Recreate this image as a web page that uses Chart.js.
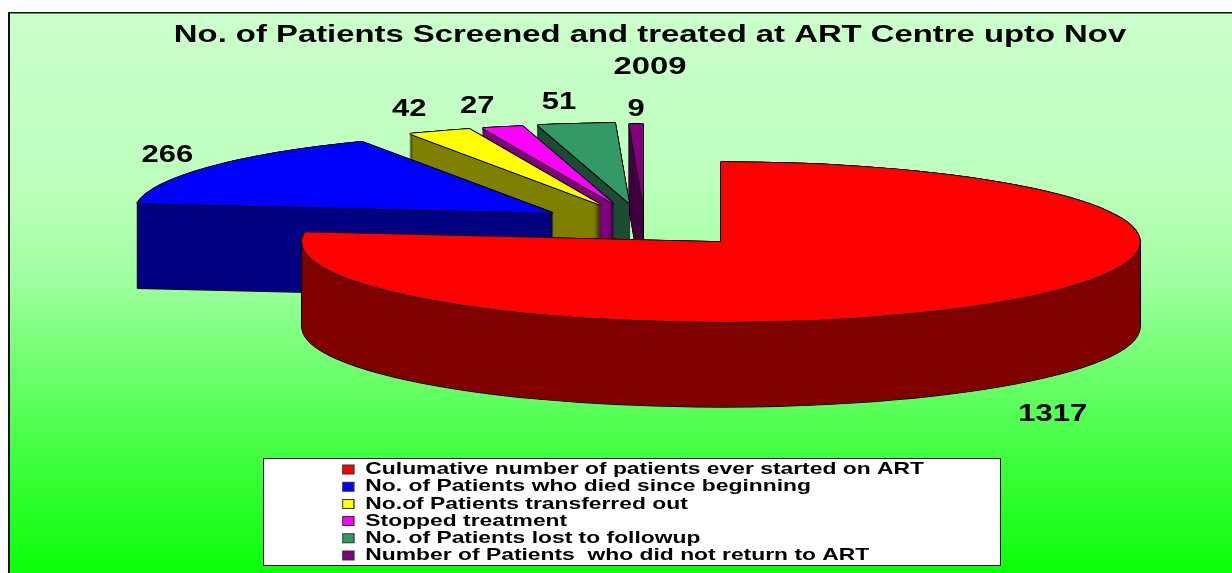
<!DOCTYPE html>
<html>
<head>
<meta charset="utf-8">
<style>html,body{margin:0;padding:0;background:#fff}canvas{display:block}</style>
<script src="https://cdn.jsdelivr.net/npm/chart.js@4/dist/chart.umd.min.js"></script>
</head>
<body>
<canvas id="c" width="1232" height="573"></canvas>
<script>
const categories = [
  "Culumative number of patients ever started on ART",
  "No. of Patients who died since beginning",
  "No.of Patients transferred out",
  "Stopped treatment",
  "No. of Patients lost to followup",
  "Number of Patients  who did not return to ART"
];
const patients = [1317, 266, 42, 27, 51, 9];
const topColors = ["#ff0000", "#0000ff", "#ffff00", "#ff00ff", "#339966", "#800080"];
const sideColors = ["#800000", "#000080", "#808000", "#800080", "#1a4d33", "#400040"];
const titleLines = ["No. of Patients Screened and treated at ART Centre upto Nov", "2009"];

// 3-D projection settings
const PIE = { cx: 721, cy: 242, rx: 419, ry: 80, depth: 85 };
const explode = [[0, 0], [-168, -29], [-120, -37], [-107, -38], [-92, -39], [-78, -38]];
const labelNudge = [[54, 112], [-42, -12], [-30, -22], [-25, -21], [-17, -21], [0, -15]];
const FRAME = { x: 8, y: 12 };
const LEGEND = { x: 263, y: 458, w: 737, h: 107, itemX: 342.5, itemY: 461, stretch: 1.344 };
const TITLE = { cx: 650, top: 19, stretch: 1.368 };
const VALUE_STRETCH = 1.29;
const bgStops = [[0, '#ccffcc'], [0.3, '#bdffbd'], [0.45, '#a6ffa6'], [0.55, '#88ff88'], [0.7, '#5cff5c'], [0.85, '#30ff30'], [1, '#0cff0c']];

function stretchDraw(box, cx, k) {
  const orig = box.draw;
  box.draw = function (a) {
    const ctx = this.ctx;
    ctx.save();
    ctx.translate(cx, 0); ctx.scale(k, 1); ctx.translate(-cx, 0);
    orig.call(this, a);
    ctx.restore();
  };
  box._stretched = true;
}

function drawLayer(chart, el, i, layer, dx, dy, color) {
  const ctx = chart.ctx;
  const R = el.outerRadius;
  const saved = el.options;
  el.options = Object.assign({}, saved, { backgroundColor: color, borderColor: color, borderWidth: 0, offset: 0 });
  ctx.save();
  ctx.translate(PIE.cx + explode[i][0] + dx, PIE.cy + explode[i][1] + layer + dy);
  ctx.scale(PIE.rx / R, PIE.ry / R);
  ctx.translate(-el.x, -el.y);
  el.draw(ctx);
  ctx.restore();
  el.options = saved;
}

const pie3d = {
  id: 'pie3d',
  afterLayout(chart) {
    const t = chart.titleBlock, l = chart.legend;
    const pad = chart.options.plugins.legend.labels.padding;
    t.left = TITLE.cx - 500; t.right = TITLE.cx + 500; t.top = TITLE.top; t.bottom = TITLE.top + 70;
    l.left = LEGEND.itemX - pad;
    l.right = l.left + 700; l.width = 700;
    l.top = LEGEND.itemY - pad;
    l.bottom = LEGEND.y + LEGEND.h + 30; l.height = l.bottom - l.top;
    if (!t._stretched) stretchDraw(t, TITLE.cx, TITLE.stretch);
    if (!l._stretched) stretchDraw(l, LEGEND.itemX, LEGEND.stretch);
  },
  beforeDraw(chart) {
    const ctx = chart.ctx, W = chart.width, H = chart.height;
    ctx.save();
    const g = ctx.createLinearGradient(0, FRAME.y, 0, H);
    bgStops.forEach(([p, c]) => g.addColorStop(p, c));
    ctx.fillStyle = g;
    ctx.fillRect(FRAME.x, FRAME.y, W - FRAME.x, H - FRAME.y);
    ctx.fillStyle = '#111';
    ctx.fillRect(FRAME.x, FRAME.y, W - FRAME.x, 1.5);
    ctx.fillRect(FRAME.x, FRAME.y, 2, H - FRAME.y);
    ctx.fillStyle = '#fff';
    ctx.strokeStyle = '#111';
    ctx.lineWidth = 1;
    ctx.fillRect(LEGEND.x, LEGEND.y, LEGEND.w, LEGEND.h);
    ctx.strokeRect(LEGEND.x + .5, LEGEND.y + .5, LEGEND.w, LEGEND.h);
    ctx.restore();
  },
  beforeDatasetDraw(chart, args) {
    const els = args.meta.data;
    const e = 0.7;
    for (let i = els.length - 1; i >= 0; i--) {
      const el = els[i];
      for (let z = PIE.depth; z >= 0; z -= 1) {
        drawLayer(chart, el, i, z, -e, 0, '#000');
        drawLayer(chart, el, i, z, e, 0, '#000');
      }
      drawLayer(chart, el, i, PIE.depth, 0, e, '#000');
      for (let z = PIE.depth; z >= 1; z -= 1) drawLayer(chart, el, i, z, 0, 0, sideColors[i]);
      for (const [dx, dy] of [[-e, 0], [e, 0], [0, -e], [0, e], [-e, -e], [e, e], [e, -e], [-e, e]]) {
        drawLayer(chart, el, i, 0, dx, dy, '#000');
      }
      drawLayer(chart, el, i, 0, 0, 0, topColors[i]);
    }
    return false;
  },
  afterDatasetsDraw(chart) {
    const ctx = chart.ctx;
    const els = chart.getDatasetMeta(0).data;
    ctx.save();
    ctx.fillStyle = '#000';
    ctx.font = 'bold 24px "Liberation Sans"';
    ctx.textAlign = 'center';
    ctx.textBaseline = 'middle';
    els.forEach((el, i) => {
      const mid = (el.startAngle + el.endAngle) / 2;
      const x = PIE.cx + explode[i][0] + PIE.rx * Math.cos(mid) + labelNudge[i][0];
      const y = PIE.cy + explode[i][1] + PIE.ry * Math.sin(mid) + labelNudge[i][1];
      ctx.save();
      ctx.translate(x, y);
      ctx.scale(VALUE_STRETCH, 1);
      ctx.fillText(String(patients[i]), 0, 0);
      ctx.restore();
    });
    ctx.restore();
  }
};

Chart.defaults.font.family = '"Liberation Sans", Arial, sans-serif';
new Chart(document.getElementById('c'), {
  type: 'pie',
  data: {
    labels: categories,
    datasets: [{ data: patients, backgroundColor: topColors, borderWidth: 0, clip: false }]
  },
  plugins: [pie3d],
  options: {
    responsive: false,
    animation: false,
    events: [],
    plugins: {
      tooltip: { enabled: false },
      title: {
        display: true,
        text: titleLines,
        color: '#000',
        align: 'center',
        padding: 0,
        font: { size: 24, weight: 'bold', lineHeight: 1.33 }
      },
      legend: {
        display: true,
        position: 'left',
        align: 'start',
        labels: {
          color: '#000',
          font: { size: 17, weight: 'bold' },
          boxWidth: 8.5,
          boxHeight: 9,
          padding: 0.2,
          generateLabels(chart) {
            return Chart.overrides.doughnut.plugins.legend.labels.generateLabels(chart).map(item => {
              item.lineWidth = 1;
              item.strokeStyle = '#333';
              return item;
            });
          }
        }
      }
    }
  }
});
</script>
</body>
</html>
